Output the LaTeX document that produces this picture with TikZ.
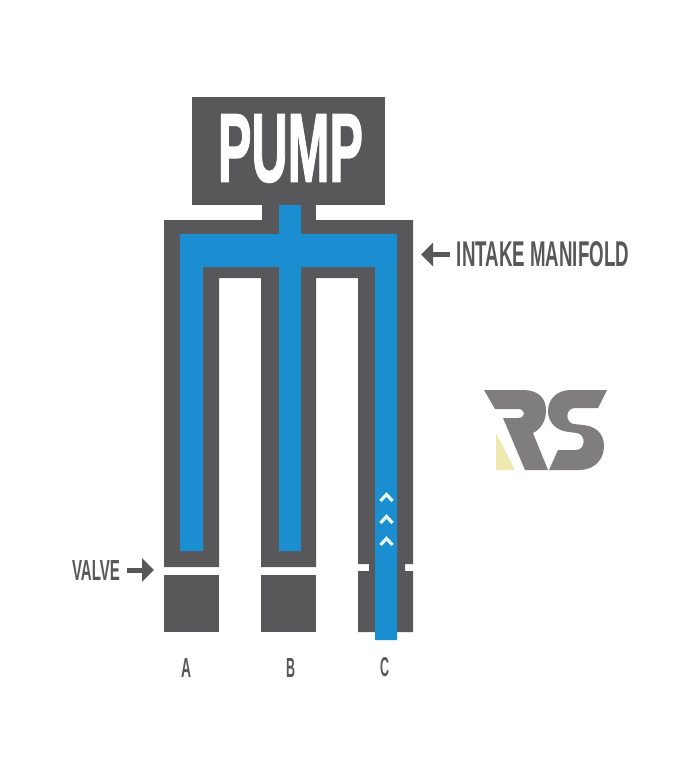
\documentclass[tikz,border=0pt]{standalone}
\usepackage{fontspec}
\usepackage{graphicx}
\setmainfont{Liberation Sans}
\usetikzlibrary{arrows.meta}
\definecolor{pipegrey}{HTML}{58585A}
\definecolor{flowblue}{HTML}{1B8ED2}
\definecolor{logogrey}{HTML}{7F7D7D}
\definecolor{logoyellow}{HTML}{EEE9B0}
\definecolor{caretwhite}{HTML}{E6F5F8}
\newcommand{\fitlabel}[3]{\resizebox{#1pt}{#2pt}{\bfseries #3}}
\newcommand{\fitheavy}[3]{\resizebox{#1pt}{#2pt}{\bfseries\addfontfeatures{FakeBold=1.6}#3}}
\tikzset{
  x=1pt,y=-1pt,
  fillgrey/.style={fill=pipegrey,draw=none},
  fillblue/.style={fill=flowblue,draw=none},
  lbl/.style={inner sep=0pt,outer sep=0pt,text=pipegrey},
  pointer/.style={draw=pipegrey,line width=5pt,-{Triangle[length=12pt,width=23pt]}},
  caret/.style={draw=caretwhite,line width=3.2pt,line join=miter}
}
\begin{document}
\begin{tikzpicture}
\useasboundingbox[fill=white] (0,0) rectangle (700,777);
% pump and neck
\fill[fillgrey] (192,97) rectangle (385,205);
\fill[fillgrey] (262,205) rectangle (316,220);
% manifold with legs
\fill[fillgrey] (164,220) -- (413,220) -- (413,564) -- (405,564) -- (405,571) -- (413,571) -- (413,632)
  -- (358,632) -- (358,571) -- (369,571) -- (369,564) -- (358,564) -- (358,278) -- (316,278)
  -- (316,567) -- (261,567) -- (261,278) -- (219,278) -- (219,567) -- (164,567) -- cycle;
% lower blocks
\fill[fillgrey] (164,575) rectangle (219,632);
\fill[fillgrey] (261,575) rectangle (316,632);
% blue fluid
\fill[fillblue] (180,234) -- (279,234) -- (279,205) -- (301,205) -- (301,234) -- (397,234)
  -- (397,640) -- (375,640) -- (375,267) -- (301,267) -- (301,551) -- (279,551)
  -- (279,267) -- (203,267) -- (203,551) -- (180,551) -- cycle;
% carets
\foreach \t in {493,515,537}{
  \draw[caret] (380.5,\t+8) -- (386.5,\t+1.5) -- (392.5,\t+8);
}
% labels
\node[lbl,text=white] (pump) at (290.5,148.5) {\fitheavy{145}{67}{PUMP}};
\node[lbl] (intake) at (543,254.5) {\fitlabel{172}{25}{INTAKE MANIFOLD}};
\node[lbl] (valve) at (96,570) {\fitlabel{48}{20}{VALVE}};
\node[lbl] (labA) at (186,667.5) {\fitlabel{10}{19}{A}};
\node[lbl] (labB) at (290.5,667.5) {\fitlabel{9}{19}{B}};
\node[lbl] (labC) at (384.5,667.5) {\fitlabel{9}{19}{C}};
% pointers
\coordinate (intakeTip) at (421,254.5);
\coordinate (valveTip) at (154,570);
\draw[pointer] ([xshift=-7pt]intake.west) -- (intakeTip);
\draw[pointer] ([xshift=7pt]valve.east) -- (valveTip);
% logo
\fill[logoyellow] (496,433) -- (496,470) -- (515,470) -- cycle;
\fill[logogrey] (484,390) -- (523,390) .. controls (538,390) and (546,398) .. (546,410)
  .. controls (546,421) and (541,429) .. (533,433) -- (548,470) -- (525,470) -- (503,418)
  -- (518,418) .. controls (526,418) and (526,409) .. (518,409) -- (495,409) -- cycle;
\fill[logogrey] (607,390) -- (571,390) .. controls (556,390) and (548,400) .. (548,411)
  .. controls (548,423) and (557,431) .. (569,432) -- (577,433)
  .. controls (586,434) and (586,450) .. (576,450) -- (558,450) -- (549,470) -- (579,470)
  .. controls (596,470) and (604,458) .. (604,446)
  .. controls (604,433) and (595,426) .. (583,425) -- (574,424)
  .. controls (565,423) and (565,408) .. (575,408) -- (598,408) -- cycle;
\end{tikzpicture}
\end{document}
